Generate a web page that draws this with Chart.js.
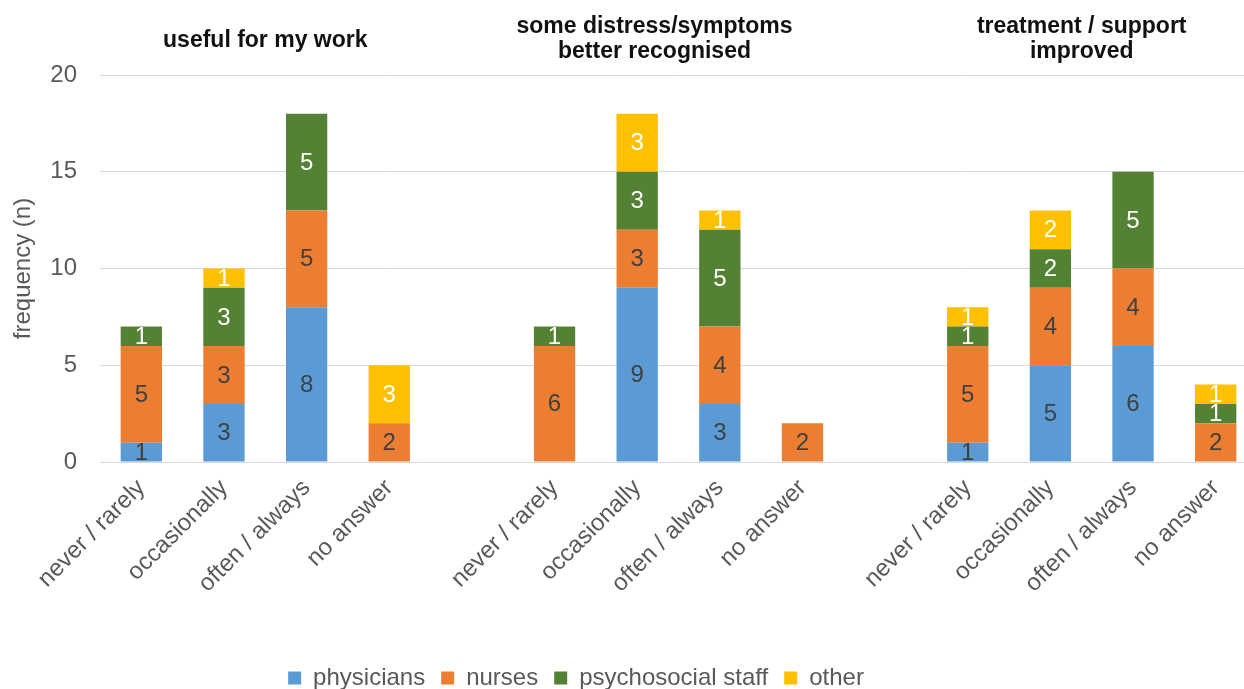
<!DOCTYPE html>
<html>
<head>
<meta charset="utf-8">
<script src="https://cdn.jsdelivr.net/npm/chart.js@4.4.1/dist/chart.umd.min.js"></script>
<style>
  html, body { margin: 0; padding: 0; background: #fff; overflow: hidden; }
  #wrap { width: 1258px; height: 689px; }
</style>
</head>
<body>
<div id="wrap"><canvas id="chart"></canvas></div>
<script>
// Answer categories (same four in every group)
const categories = ["never / rarely", "occasionally", "often / always", "no answer"];

// Group headings, one line per entry
const groupTitles = [
  ["useful for my work"],
  ["some distress/symptoms", "better recognised"],
  ["treatment / support", "improved"]
];

// Counts per group, in category order
const physicians   = [[1, 3, 8, 0], [0, 9, 3, 0], [1, 5, 6, 0]];
const nurses       = [[5, 3, 5, 2], [6, 3, 4, 2], [5, 4, 4, 2]];
const psychosocial = [[1, 3, 5, 0], [1, 3, 5, 0], [1, 2, 5, 1]];
const other        = [[0, 1, 0, 3], [0, 3, 1, 0], [1, 2, 0, 1]];

const yTicks = [0, 5, 10, 15, 20];

// Flatten groups with an empty slot between them
function withGaps(groups, gap) {
  const out = [];
  groups.forEach((g, i) => {
    if (i > 0) out.push(gap);
    g.forEach(v => out.push(v));
  });
  return out;
}

const labels = withGaps([categories, categories, categories], "");

const FONT = "'Liberation Sans', Arial, sans-serif";
const GREY = "#595959";

const series = [
  { label: "physicians",         data: physicians,   color: "#5B9BD5", text: "#404040" },
  { label: "nurses",             data: nurses,       color: "#ED7D31", text: "#404040" },
  { label: "psychosocial staff", data: psychosocial, color: "#548235", text: "#ffffff" },
  { label: "other",              data: other,        color: "#FFC000", text: "#ffffff" }
];

// Draws the count in the middle of each segment
const segmentLabels = {
  id: "segmentLabels",
  afterDatasetsDraw(chart) {
    const ctx = chart.ctx;
    ctx.save();
    ctx.font = "24px " + FONT;
    ctx.textAlign = "center";
    ctx.textBaseline = "middle";
    chart.data.datasets.forEach((ds, i) => {
      const meta = chart.getDatasetMeta(i);
      meta.data.forEach((bar, j) => {
        const v = ds.data[j];
        if (!v) return;
        ctx.fillStyle = ds.textColor;
        ctx.fillText(String(v), bar.x, (bar.y + bar.base) / 2 + 1);
      });
    });
    ctx.restore();
  }
};

// Group headings above each block of bars (hand-placed in the original, hence the nudges)
const headingNudge = [0, -24, -10];
const groupHeadings = {
  id: "groupHeadings",
  afterDraw(chart) {
    const ctx = chart.ctx;
    const x = chart.scales.x;
    ctx.save();
    ctx.font = "bold 23px " + FONT;
    ctx.fillStyle = "#111";
    ctx.textAlign = "center";
    ctx.textBaseline = "middle";
    groupTitles.forEach((lines, g) => {
      const first = g * (categories.length + 1);
      const last = first + categories.length - 1;
      const cx = (x.getPixelForValue(first) + x.getPixelForValue(last)) / 2 + headingNudge[g];
      const top = lines.length === 1 ? 41 : 27;
      lines.forEach((t, k) => ctx.fillText(t, cx, top + k * 25));
    });
    ctx.restore();
  }
};

// Legend sits a little left of centre and near the bottom edge
const legendPlacement = {
  id: "legendPlacement",
  afterLayout(chart) {
    const lg = chart.legend;
    const h = lg.bottom - lg.top;
    lg.top = 675 - h / 2;
    lg.bottom = lg.top + h;
    lg.left = 0;
    lg.right = 1152;
    lg.width = 1152;
  }
};

new Chart(document.getElementById("chart"), {
  type: "bar",
  data: {
    labels: labels,
    datasets: series.map(s => ({
      label: s.label,
      data: withGaps(s.data, null),
      backgroundColor: s.color,
      textColor: s.text,
      barPercentage: 0.5,
      categoryPercentage: 1.0
    }))
  },
  options: {
    responsive: true,
    maintainAspectRatio: false,
    animation: false,
    layout: { padding: { top: 75, right: 1, left: 0, bottom: 0 } },
    plugins: {
      legend: {
        position: "bottom",
        labels: {
          boxWidth: 13,
          boxHeight: 13,
          padding: 16,
          color: GREY,
          font: { size: 24, family: FONT }
        }
      },
      tooltip: { enabled: false }
    },
    scales: {
      x: {
        stacked: true,
        grid: { display: false },
        border: { color: "#d9d9d9" },
        ticks: {
          color: GREY,
          font: { size: 24, family: FONT },
          minRotation: 45,
          maxRotation: 45,
          autoSkip: false,
          padding: 4
        },
        afterFit(scale) { scale.height = 177; }
      },
      y: {
        stacked: true,
        min: 0,
        max: 20,
        afterBuildTicks(scale) { scale.ticks = yTicks.map(v => ({ value: v })); },
        grid: { color: "#d9d9d9", drawTicks: false },
        border: { display: false },
        ticks: {
          color: GREY,
          font: { size: 24, family: FONT },
          padding: 23
        },
        title: {
          display: true,
          text: "frequency (n)",
          color: GREY,
          font: { size: 24, family: FONT },
          padding: { top: 9, bottom: 0 }
        },
        afterFit(scale) { scale.width = 100; }
      }
    }
  },
  plugins: [segmentLabels, groupHeadings, legendPlacement]
});
</script>
</body>
</html>
